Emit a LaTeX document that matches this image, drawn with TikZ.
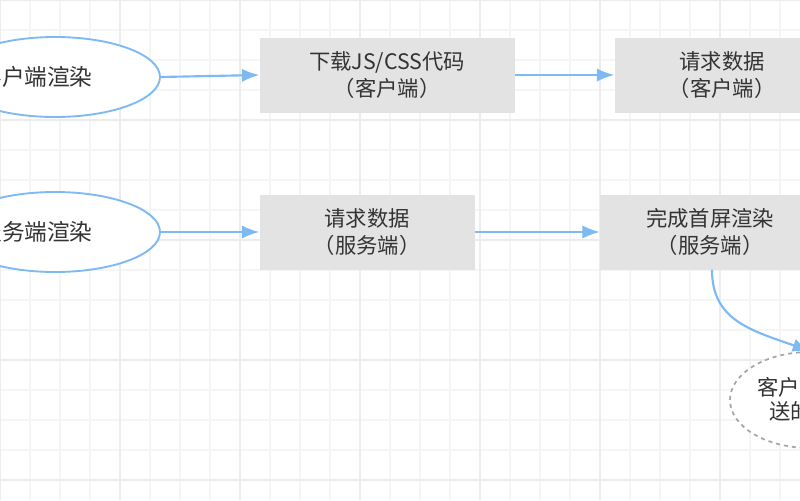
\documentclass[tikz,border=0pt]{standalone}
\usepackage{fontspec}
\setmainfont{Noto Sans CJK SC}
\usetikzlibrary{arrows.meta,positioning,shapes.geometric}
\definecolor{flowblue}{HTML}{7DB9F2}
\definecolor{boxgray}{HTML}{E3E3E3}
\definecolor{txtgray}{HTML}{333333}
\tikzset{
  start/.style = {draw=flowblue, line width=1.4pt, ellipse, fill=white, minimum width=210\px, minimum height=80\px},
  starttext/.style = {text=txtgray, inner sep=0pt, font=\fontsize{17}{20}\selectfont},
  block/.style = {rectangle, fill=boxgray, minimum height=75\px, text=txtgray, align=center, font=\fontsize{16}{20}\selectfont},
  flow/.style  = {draw=flowblue, line width=1.6pt, -{Latex[length=13pt,width=10pt]}},
}
\newcommand{\px}{pt*0.75}
\begin{document}
\begin{tikzpicture}[x=0.75pt,y=-0.75pt]
	\useasboundingbox (0,0) rectangle (800,500);
	\clip (0,0) rectangle (800,500);
	% grid
	\fill[white] (0,0) rectangle (800,500);
	\foreach \gx in {0,30,...,810} \draw[gray!8, line width=0.8pt] (\gx,0) -- (\gx,500);
	\foreach \gy in {0,30,...,510} \draw[gray!8, line width=0.8pt] (0,\gy) -- (800,\gy);
	\foreach \gx in {0,120,...,810} \draw[gray!15, line width=0.8pt] (\gx,0) -- (\gx,500);
	\foreach \gy in {0,120,...,510} \draw[gray!15, line width=0.8pt] (0,\gy) -- (800,\gy);

	\node [start] (client) at (55,77) {};
	\node [starttext] (clientlabel) at (36,77) {客户端渲染};
	\node [start] (server) at (55,232) {};
	\node [starttext] (serverlabel) at (36,232) {服务端渲染};

	\node [block, minimum width=255\px] (download) at (387,75) {下载JS/CSS代码\\（客户端）};
	\node [block, minimum width=215\px] (fetchc) at (722,75) {请求数据\\（客户端）};
	\node [block, minimum width=215\px] (fetchs) at (367,232) {请求数据\\（服务端）};
	\node [block, minimum width=220\px] (render) at (710,232) {完成首屏渲染\\（服务端）};

	\node [draw=gray!70, dashed, line width=1.3pt, ellipse, fill=white, minimum width=160\px, minimum height=96\px] (recv) at (810,400) {};
	\node [anchor=west, text=txtgray, font=\fontsize{16}{18}\selectfont, inner sep=0pt] (recva) at (757,387) {客户};
	\node [anchor=west, text=txtgray, font=\fontsize{16}{18}\selectfont, inner sep=0pt] (recvb) at (769,411) {送的};

	\draw [flow] (client.east) -- (download.west);
	\draw [flow] (download.east) -- (fetchc.west);
	\draw [flow] (server.east) -- (fetchs.west);
	\draw [flow] (fetchs.east) -- (render.west);
	\draw [flow] (render.south -| 712,0) .. controls (712,320) and (750,330) .. (recv.north);
\end{tikzpicture}
\end{document}
